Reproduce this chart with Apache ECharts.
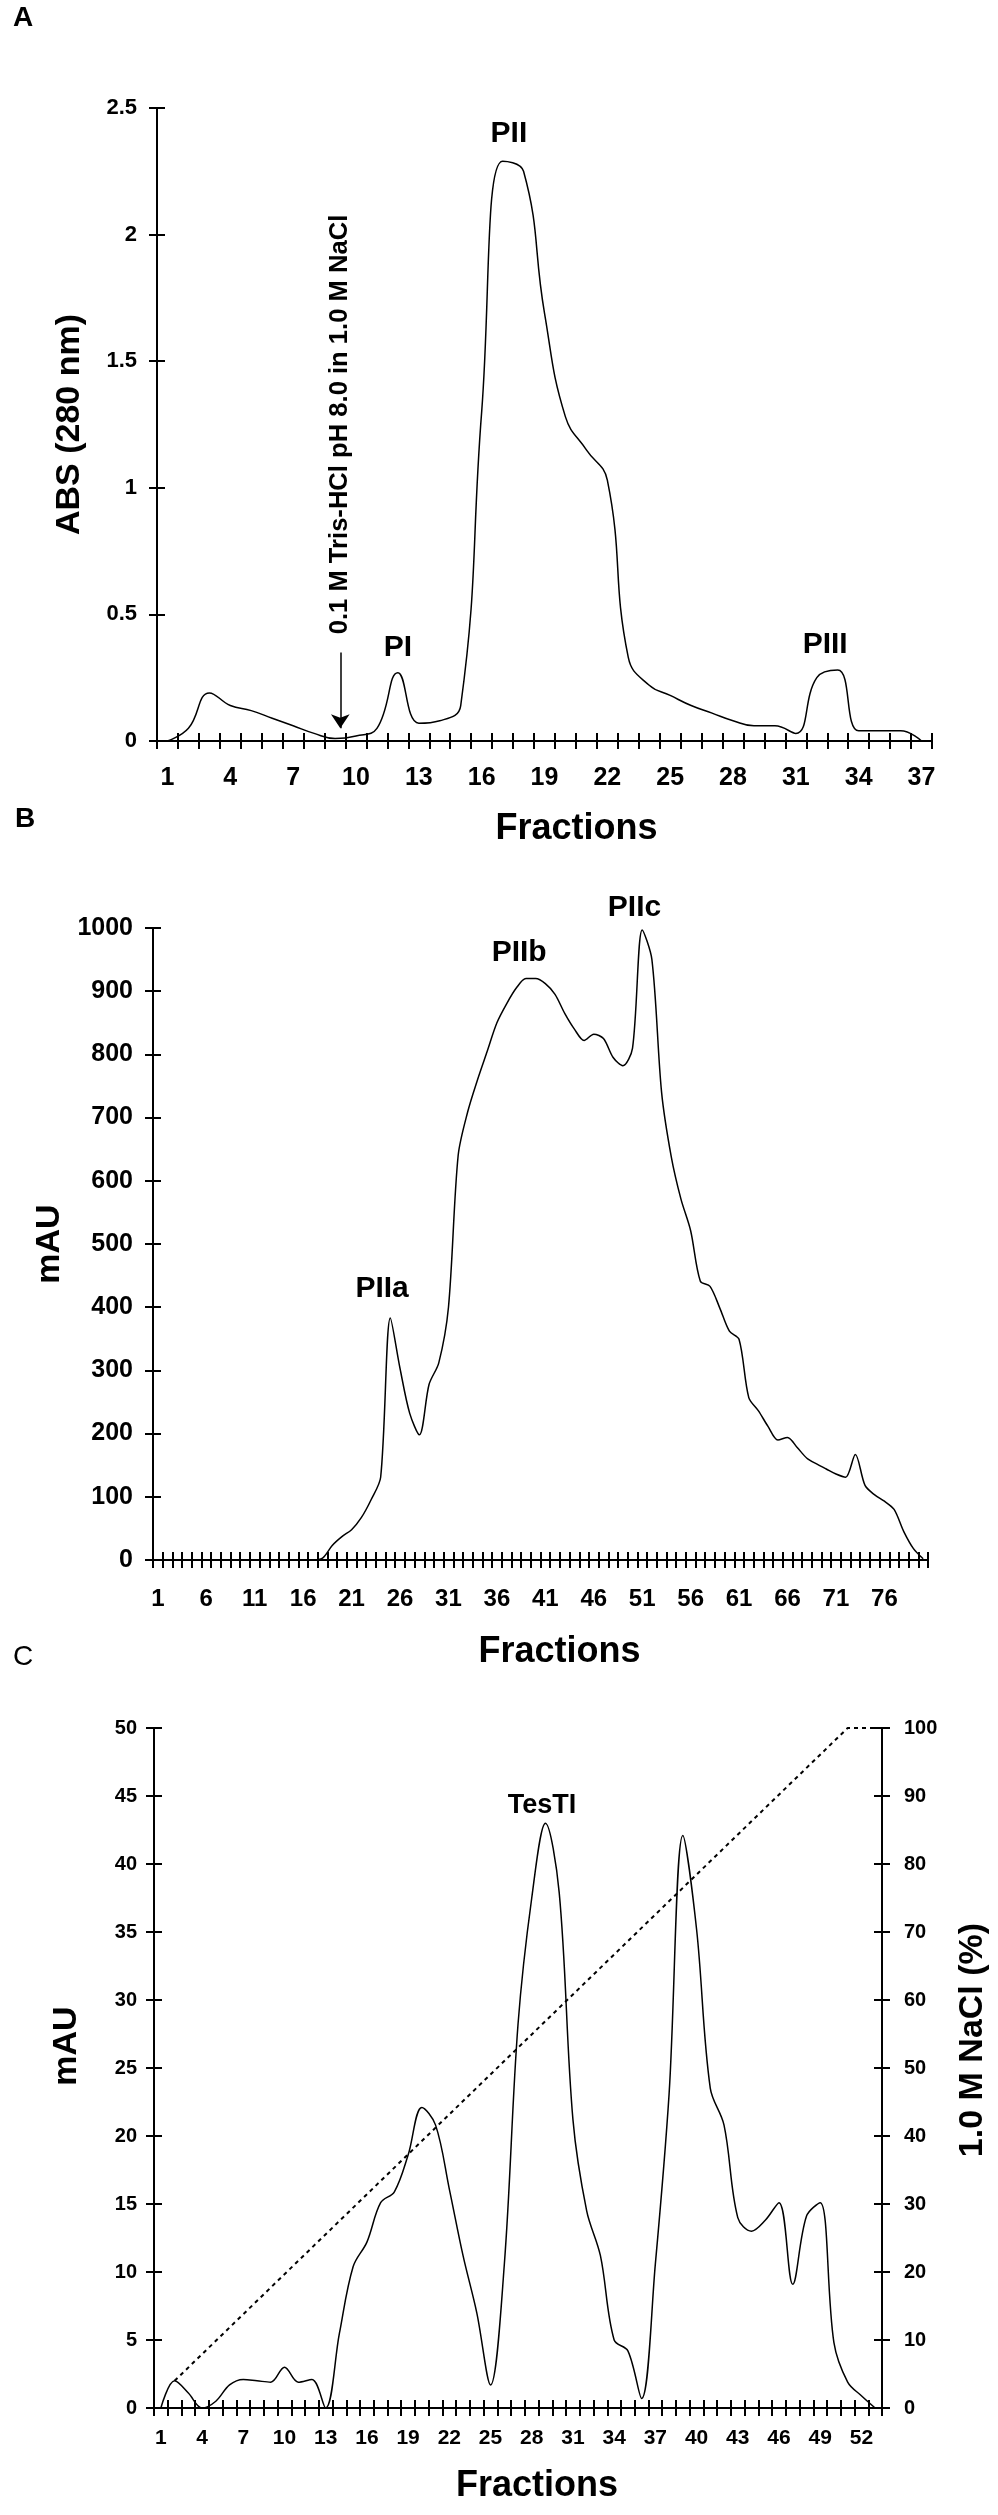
<!DOCTYPE html>
<html>
<head>
<meta charset="utf-8">
<script src="https://cdn.jsdelivr.net/npm/echarts@6/dist/echarts.min.js"></script>
<style>
html,body{margin:0;padding:0;background:#fff;}
#chart{width:998px;height:2515px;}
</style>
</head>
<body>
<div id="chart"></div>
<script>
// ---------- Panel A ----------
const fractionsA = ['1','2','3','4','5','6','7','8','9','10','11','12','13','14','15','16','17','18','19','20','21','22','23','24','25','26','27','28','29','30','31','32','33','34','35','36','37'];
const absA = [0, 0.05, 0.19, 0.14, 0.12, 0.09, 0.06, 0.03, 0.01, 0.02, 0.05, 0.27, 0.07, 0.08, 0.14, 1.3, 2.29, 2.25, 1.69, 1.28, 1.15, 1.03, 0.33, 0.22, 0.18, 0.14, 0.11, 0.08, 0.06, 0.06, 0.03, 0.25, 0.28, 0.04, 0.04, 0.04, 0];
const peakNamesA = ['PI', 'PII', 'PIII'];
const peakFracA = [12.0, 17.3, 32.4];
const peakAbsA = [0.37, 2.40, 0.38];
const bufferText = '0.1 M Tris-HCl pH 8.0 in 1.0 M NaCl';
const bufferFrac = 9.25;
const bufferTextAbs = 1.25;
const arrowAbs = [0.35, 0.05];

// ---------- Panel B ----------
const fractionsB = [];
for (let i = 1; i <= 80; i++) fractionsB.push(String(i));
const mauB = [0,0,0,0,0,0,0,0,0,0,0,0,0,0,0,0,0,
  3, 23, 37, 48, 67, 95, 131, 383, 303, 232, 198, 278, 312, 400, 640, 710, 760, 805, 850, 880, 905, 920, 920,
  912, 895, 865, 840, 822, 832, 825, 795, 782, 810, 997, 950, 740, 638, 571, 521, 441, 433, 399, 362,
  349, 257, 236, 211, 190, 194, 178, 161, 152, 144, 136, 131, 167, 118, 103, 93, 80, 45, 18, 2];
const peakNamesB = ['PIIa', 'PIIb', 'PIIc'];
const peakFracB = [24.15, 38.3, 50.2];
const peakMauB = [429, 961, 1032];

// ---------- Panel C ----------
const fractionsC = [];
for (let i = 1; i <= 53; i++) fractionsC.push(String(i));
const mauC = [0, 2.0, 1.1, 0, 0.5, 1.7, 2.1, 2.0, 1.9, 3.0, 1.9, 2.1, 0, 5.5, 10.4, 12.2, 15.1, 15.9, 18.6, 22.1,
  20.8, 16.1, 11.2, 7.0, 1.7, 10.5, 28.2, 37.5, 43.0, 37.9, 21.2, 14.5, 11.2, 5.0, 4.2, 0.7, 10.6, 23.1, 42.1, 35.2,
  23.5, 20.8, 14.0, 13.0, 13.8, 15.1, 9.1, 14.1, 15.1, 4.8, 1.9, 0.9, 0];
const naclFrac = [2, 51, 53.5];
const naclPct = [4, 100, 100];
const peakNamesC = ['TesTI'];
const peakFracC = [28.75];
const peakMauC = [44.3];

// ---------- helpers ----------
const FONT = "'Liberation Sans', Arial, sans-serif";
const BLACK = '#000';

function catAxis(gridIndex, data, labelInterval, fontSize, margin, name, nameGap, namePadLeft) {
  return {
    type: 'category', gridIndex: gridIndex, data: data, boundaryGap: true, position: 'bottom',
    axisLine: {show: true, lineStyle: {color: BLACK, width: 2}},
    axisTick: {show: true, interval: 0, alignWithLabel: false, inside: false, length: 8, lineStyle: {color: BLACK, width: 2}},
    axisLabel: {show: true, interval: labelInterval, color: BLACK, fontSize: fontSize, fontWeight: 'bold', fontFamily: FONT, margin: margin},
    splitLine: {show: false},
    name: name, nameLocation: 'middle', nameGap: nameGap,
    nameTextStyle: {color: BLACK, fontSize: 36, fontWeight: 'bold', fontFamily: FONT, padding: [0, 0, 0, namePadLeft]}
  };
}
function catAxisInner(gridIndex, data) {
  return {
    type: 'category', gridIndex: gridIndex, data: data, boundaryGap: true, position: 'bottom',
    axisLine: {show: false},
    axisTick: {show: true, interval: 0, alignWithLabel: false, inside: true, length: 8, lineStyle: {color: BLACK, width: 2}},
    axisLabel: {show: false}, splitLine: {show: false}
  };
}
function hiddenX(gridIndex, n) {
  return {type: 'value', gridIndex: gridIndex, min: 0.5, max: n + 0.5, show: false, splitLine: {show: false}};
}
function valAxis(gridIndex, pos, max, interval, fontSize, margin, name, nameGap, namePadLeft, nameSize) {
  return {
    type: 'value', gridIndex: gridIndex, position: pos, min: 0, max: max, interval: interval,
    axisLine: {show: true, lineStyle: {color: BLACK, width: 2}},
    axisTick: {show: true, inside: false, length: 8, lineStyle: {color: BLACK, width: 2}},
    axisLabel: {show: true, color: BLACK, fontSize: fontSize, fontWeight: 'bold', fontFamily: FONT, margin: margin,
      formatter: function (v) { return String(v); }},
    splitLine: {show: false},
    name: name, nameLocation: 'middle', nameGap: nameGap, nameRotate: 90,
    nameTextStyle: {color: BLACK, fontSize: nameSize, fontWeight: 'bold', fontFamily: FONT, padding: [0, 0, 0, namePadLeft]}
  };
}
function valAxisInner(gridIndex, pos, max, interval) {
  return {
    type: 'value', gridIndex: gridIndex, position: pos, min: 0, max: max, interval: interval,
    axisLine: {show: false},
    axisTick: {show: true, inside: true, length: 8, lineStyle: {color: BLACK, width: 2}},
    axisLabel: {show: false}, splitLine: {show: false}
  };
}
function labelSeries(xIdx, yIdx, names, xs, ys, fontSize) {
  return {
    type: 'scatter', xAxisIndex: xIdx, yAxisIndex: yIdx, clip: false, silent: true,
    symbolSize: 0, itemStyle: {color: BLACK, opacity: 1},
    label: {show: true, position: 'inside', formatter: '{b}', color: BLACK, opacity: 1, textBorderWidth: 0,
      fontSize: fontSize, fontWeight: 'bold', fontFamily: FONT},
    data: names.map((n, i) => ({name: n, value: [xs[i], ys[i]]}))
  };
}

const option = {
  animation: false,
  backgroundColor: '#fff',
  textStyle: {fontFamily: FONT},
  title: [
    {text: 'A', left: 13, top: 4, padding: 0, textStyle: {fontSize: 28, fontWeight: 'bold', color: BLACK, fontFamily: FONT}},
    {text: 'B', left: 15, top: 805, padding: 0, textStyle: {fontSize: 28, fontWeight: 'bold', color: BLACK, fontFamily: FONT}},
    {text: 'C', left: 13, top: 1643, padding: 0, textStyle: {fontSize: 28, fontWeight: 'normal', color: BLACK, fontFamily: FONT}}
  ],
  grid: [
    {left: 157, top: 108, width: 775, height: 633, containLabel: false},
    {left: 153, top: 928, width: 775, height: 632, containLabel: false},
    {left: 154, top: 1728, width: 732, height: 680, containLabel: false}
  ],
  xAxis: [
    catAxis(0, fractionsA, 2, 25, 25, 'Fractions', 70, 64),
    catAxisInner(0, fractionsA),
    hiddenX(0, 37),
    catAxis(1, fractionsB, 4, 24, 27, 'Fractions', 74, 38),
    catAxisInner(1, fractionsB),
    hiddenX(1, 80),
    catAxis(2, fractionsC, 2, 21, 20, 'Fractions', 60, 38),
    catAxisInner(2, fractionsC),
    hiddenX(2, 53)
  ],
  yAxis: [
    valAxis(0, 'left', 2.5, 0.5, 22, 20, 'ABS (280 nm)', 70, 0, 34),
    valAxisInner(0, 'left', 2.5, 0.5),
    valAxis(1, 'left', 1000, 100, 25, 20, 'mAU', 74, 0, 34),
    valAxisInner(1, 'left', 1000, 100),
    valAxis(2, 'left', 50, 5, 20, 17, 'mAU', 70, 44, 34),
    valAxisInner(2, 'left', 50, 5),
    valAxis(2, 'right', 100, 10, 20, 22, '1.0 M NaCl (%)', 74, 56, 34),
    valAxisInner(2, 'right', 100, 10)
  ],
  series: [
    {
      type: 'line', xAxisIndex: 0, yAxisIndex: 0, data: absA, smooth: 0.45, showSymbol: false, silent: true,
      lineStyle: {color: BLACK, width: 1.5}
    },
    labelSeries(2, 0, peakNamesA, peakFracA, peakAbsA, 30),
    {
      type: 'scatter', xAxisIndex: 2, yAxisIndex: 0, clip: false, silent: true,
      symbolSize: 0, itemStyle: {color: BLACK, opacity: 1},
      label: {show: true, position: 'inside', rotate: 90, formatter: '{b}', color: BLACK, opacity: 1, textBorderWidth: 0,
        fontSize: 25.6, fontWeight: 'bold', fontFamily: FONT},
      data: [{name: bufferText, value: [bufferFrac, bufferTextAbs]}],
      markLine: {
        silent: true, symbol: ['none', 'arrow'], symbolSize: 14,
        lineStyle: {color: BLACK, width: 1.5, type: 'solid', opacity: 1},
        label: {show: false},
        data: [[{coord: [bufferFrac, arrowAbs[0]]}, {coord: [bufferFrac, arrowAbs[1]]}]]
      }
    },
    {
      type: 'line', xAxisIndex: 3, yAxisIndex: 2, data: mauB, smooth: 0.3, showSymbol: false, silent: true,
      lineStyle: {color: BLACK, width: 1.5}
    },
    labelSeries(5, 2, peakNamesB, peakFracB, peakMauB, 30),
    {
      type: 'line', xAxisIndex: 6, yAxisIndex: 4, data: mauC, smooth: 0.35, showSymbol: false, silent: true,
      lineStyle: {color: BLACK, width: 1.5}
    },
    {
      type: 'line', xAxisIndex: 8, yAxisIndex: 6, data: naclFrac.map((f, i) => [f, naclPct[i]]), showSymbol: false, silent: true,
      lineStyle: {color: BLACK, width: 2, type: [4, 4]}
    },
    labelSeries(8, 4, peakNamesC, peakFracC, peakMauC, 27)
  ]
};

const chart = echarts.init(document.getElementById('chart'), null, {renderer: 'canvas'});
chart.setOption(option);
</script>
</body>
</html>
